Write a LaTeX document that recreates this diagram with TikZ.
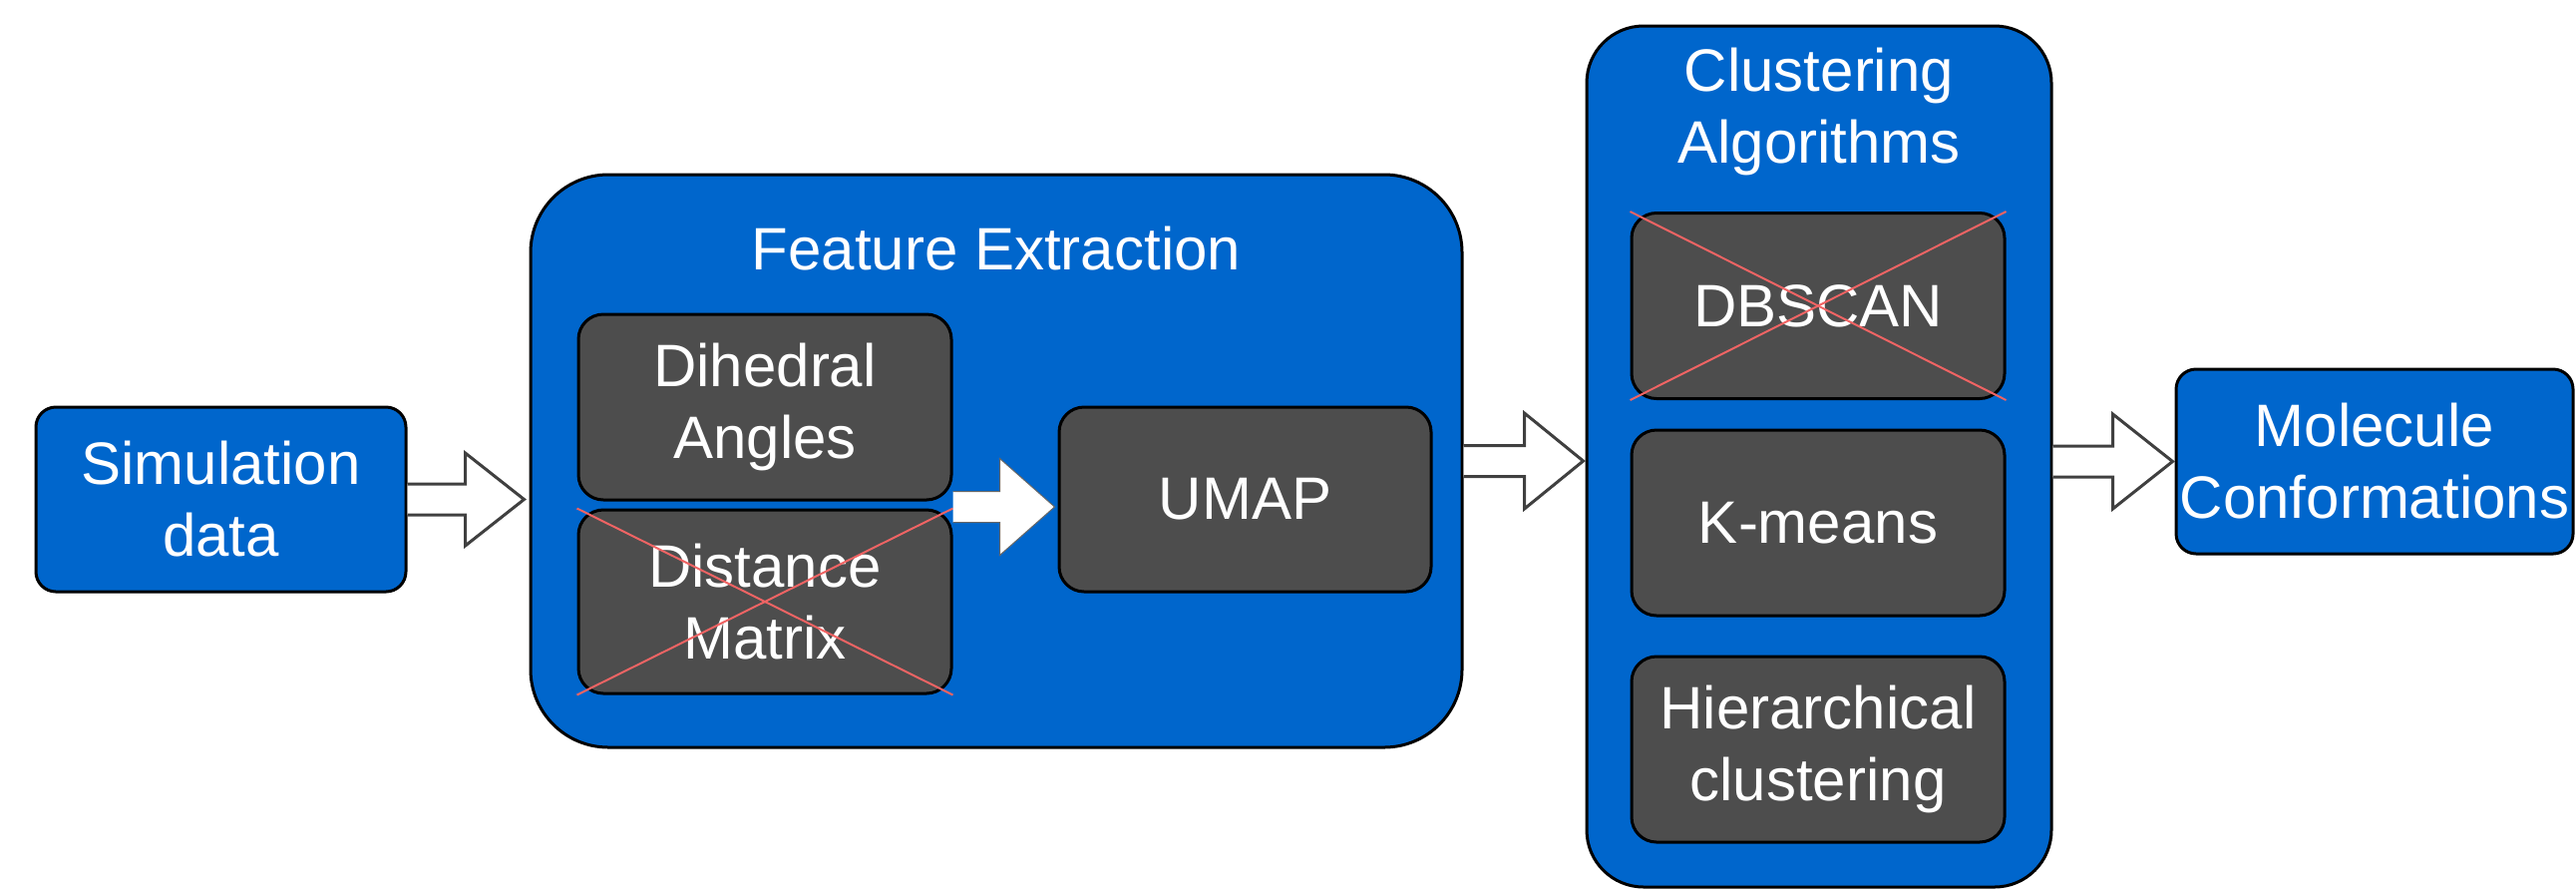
\documentclass[tikz,border=0pt]{standalone}
\usepackage{fontspec}
\setmainfont{Liberation Sans}
\usetikzlibrary{calc}
\definecolor{boxblue}{HTML}{0066CC}
\definecolor{boxgray}{HTML}{4D4D4D}
\definecolor{crossred}{HTML}{F06464}
\newcommand{\blockarrow}[6][]{%
  \filldraw[#1] ($(#2)+(0,-#6)$) -- ($(#3)+(-#4,-#6)$) -- ($(#3)+(-#4,-#5)$) -- (#3)
    -- ($(#3)+(-#4,#5)$) -- ($(#3)+(-#4,#6)$) -- ($(#2)+(0,#6)$);}
\tikzset{
  txt/.style={text=white, font=\fontsize{30pt}{36pt}\selectfont, align=center},
  bluebox/.style={txt, draw=black, line width=1.5pt, fill=boxblue, inner sep=0pt},
  graybox/.style={txt, draw=black, line width=1.5pt, fill=boxgray, inner sep=0pt,
    rounded corners=12.5pt, minimum width=187pt, minimum height=93pt},
  outerarrow/.style={draw=black!75, line width=1.5pt, fill=white, line join=miter},
  innerarrow/.style={draw=black!60, line width=0.5pt, fill=white},
  crossline/.style={draw=crossred, line width=1pt}
}
\begin{document}
\begin{tikzpicture}[x=0.5pt,y=-0.5pt]
\useasboundingbox (0,0) rectangle (2583,891);
% boxes
\node[bluebox, rounded corners=10pt, minimum width=185.5pt, minimum height=92.5pt] (sim) at (221.5,500.5) {Simulation\\data};
\node[bluebox, rounded corners=39pt, minimum width=467pt, minimum height=287pt] (fe) at (999,462) {};
\node[txt] (fetitle) at (999,249) {Feature Extraction};
\node[graybox] (dih) at (767,408) {Dihedral\\Angles};
\node[graybox, minimum height=92pt] (dist) at (767,603) {Distance\\Matrix};
\node[graybox, minimum width=186.5pt, minimum height=92.5pt] (umap) at (1248.5,500.5) {UMAP};
\node[bluebox, rounded corners=28.5pt, minimum width=233pt, minimum height=431.5pt] (clu) at (1824,457.5) {};
\node[txt] (clutitle) at (1824,112) {Clustering\\Algorithms};
\node[graybox] (dbscan) at (1823,306.5) {DBSCAN};
\node[graybox] (kmeans) at (1823,524) {K-means};
\node[graybox] (hier) at (1823,751) {Hierarchical\\clustering};
\node[bluebox, rounded corners=10pt, minimum width=199pt, minimum height=92.5pt] (mol) at (2381,462.5) {Molecule\\Conformations};
% crosses
\draw[crossline] (dist.north west) -- (dist.south east);
\draw[crossline] (dist.north east) -- (dist.south west);
\draw[crossline] (dbscan.north west) -- (dbscan.south east);
\draw[crossline] (dbscan.north east) -- (dbscan.south west);
% arrow anchor points
\coordinate (a1s) at (sim.east);
\coordinate (a1e) at ($(fe.west |- sim.east)+(-5,0)$);
\coordinate (a2s) at (fe.east);
\coordinate (a2e) at ($(clu.west |- fe.east)+(-2,0)$);
\coordinate (a3s) at (clu.east |- mol.west);
\coordinate (a3e) at ($(mol.west)+(-2,0)$);
\coordinate (a4s) at ($(dih.south east)!0.5!(dist.north east)+(0,2)$);
\coordinate (a4e) at ($(umap.west |- a4s)+(-3,0)$);
% arrows
\blockarrow[outerarrow]{a1s}{a1e}{59}{46.5}{15.5}
\blockarrow[outerarrow]{a2s}{a2e}{59}{48}{15.5}
\blockarrow[outerarrow]{a3s}{a3e}{60}{47.5}{15.5}
\blockarrow[innerarrow]{a4s}{a4e}{55}{48.5}{15.5}
\end{tikzpicture}
\end{document}
